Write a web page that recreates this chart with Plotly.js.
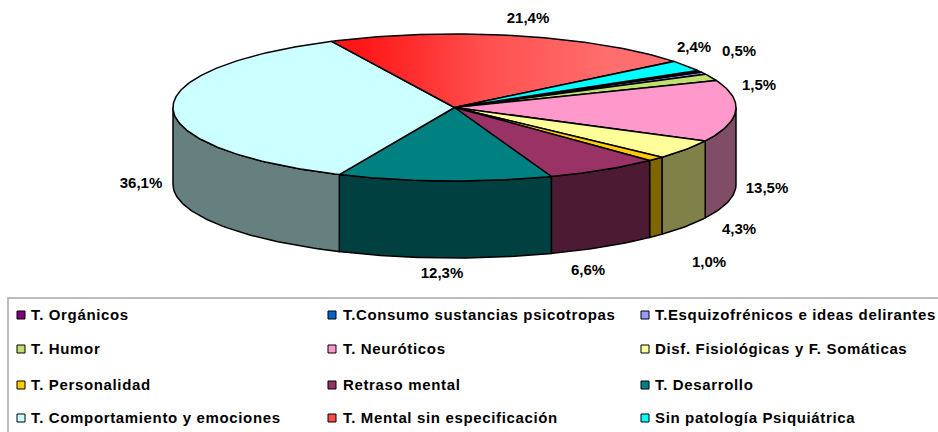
<!DOCTYPE html>
<html><head><meta charset="utf-8">
<script src="https://cdn.plot.ly/plotly-3.0.1.min.js"></script>
<style>html,body{margin:0;padding:0;background:#fff}#c{width:938px;height:432px}
#c .scatterlayer .trace.legendtext text{letter-spacing:0.65px}</style>
</head><body><div id="c"></div>
<script>
// ---- data, in pie order (clockwise) ----
const categories = ["T. Orgánicos","T.Consumo sustancias psicotropas","T.Esquizofrénicos e ideas delirantes","T. Humor","T. Neuróticos","Disf. Fisiológicas y F. Somáticas","T. Personalidad","Retraso mental","T. Desarrollo","T. Comportamiento y emociones","T. Mental sin especificación","Sin patología Psiquiátrica"];
const values = [0.2,0.2,0.5,1.5,13.5,4.3,1.0,6.6,12.3,36.1,21.4,2.4];
const labelled = [false,false,true,true,true,true,true,true,true,true,true,true];
// ---- styles ----
const topColors = ["#800080","#0066cc","#9999ff","#c0e070","#ff99cc","#ffff99","#ffcc00","#993366","#008080","#ccffff","#ff4a4a","#00ffff"];
const wallColors = ["#400040","#003366","#4d4d80","#607038","#804d66","#808049","#806600","#4d1a33","#004040","#668080","#802525","#008080"];
// ---- layout geometry (pixel-scaled axes) ----
const pie = {cx:454.5, cy:107.5, rx:281.5, ry:73.5, depth:77, start:59.8};
const labelX = [null,null,739,759,767,739,709,588,442,141,528,694];
const labelY = [null,null,52,86,189,230,263,271,274,184,19,48];
const gridX = [21,332,645];
const gridTextX = [31,343,655];
const gridY = [315,349,385,418];
const fontFam = '"Liberation Sans", Arial, sans-serif';

const total = values.reduce((a,b)=>a+b,0);
const pt = (deg,dy)=>{const a=deg*Math.PI/180;return [pie.cx+pie.rx*Math.sin(a), pie.cy-pie.ry*Math.cos(a)+dy];};
const arc = (a0,a1,dy)=>{const out=[];const n=Math.max(2,Math.ceil(Math.abs(a1-a0)));for(let i=0;i<=n;i++)out.push(pt(a0+(a1-a0)*i/n,dy));return out;};

let cum = pie.start; const spans = values.map(v=>{const s=[cum,cum+v/total*360];cum=s[1];return s;});
const traces = [];
const poly = (pts,color,name,extra)=>Object.assign({type:'scatter',mode:'lines',x:pts.map(p=>p[0]),y:pts.map(p=>p[1]),fill:'toself',fillcolor:color,line:{color:'#000',width:1.5},name:name,hoverinfo:'name',showlegend:false},extra||{});

// side walls: only the part of each slice between 90 and 270 degrees faces the viewer
spans.forEach((s,i)=>{
  const a0=Math.max(s[0],90), a1=Math.min(s[1],270);
  if(a1<=a0) return;
  const pts=arc(a0,a1,0).concat(arc(a1,a0,pie.depth)); pts.push(pts[0]);
  traces.push(poly(pts,wallColors[i],categories[i]));
});
// top faces
spans.forEach((s,i)=>{
  const pts=[[pie.cx,pie.cy]].concat(arc(s[0],s[1],0)); pts.push(pts[0]);
  const extra = categories[i]==="T. Mental sin especificación"
    ? {fillgradient:{type:'horizontal',start:360,stop:610,colorscale:[[0,'#ff1616'],[0.5,'#ff4f4f'],[1,'#ff6e6e']]}} : {};
  traces.push(poly(pts,topColors[i],categories[i],extra));
});
// percentage labels
const pctText = v=>v.toFixed(1).replace('.',',')+'%';
const li = values.map((v,i)=>i).filter(i=>labelled[i]);
traces.push({type:'scatter',mode:'text',x:li.map(i=>labelX[i]),y:li.map(i=>labelY[i]),text:li.map(i=>pctText(values[i])),textposition:'middle center',textfont:{family:fontFam,size:15,color:'#000',weight:700},hoverinfo:'skip',showlegend:false,cliponaxis:false});
// legend grid: swatches
categories.forEach((c,i)=>{
  traces.push({type:'scatter',mode:'markers',x:[gridX[i%3]],y:[gridY[Math.floor(i/3)]],marker:{symbol:'square',size:8,color:topColors[i],line:{color:'#000',width:1}},name:c,hoverinfo:'name',showlegend:false,cliponaxis:false});
});
// legend grid: names
const nameTrace = {type:'scatter',mode:'text',x:categories.map((c,i)=>gridTextX[i%3]),y:categories.map((c,i)=>gridY[Math.floor(i/3)]+1),text:categories,textposition:'middle right',textfont:{family:fontFam,size:15,color:'#000',weight:700},hoverinfo:'skip',showlegend:false,cliponaxis:false};
traces.push(nameTrace);
const layout = {
  width:938,height:432,margin:{l:0,r:0,t:0,b:0},paper_bgcolor:'#fff',plot_bgcolor:'#fff',showlegend:false,
  xaxis:{range:[0,938],visible:false,fixedrange:true},
  yaxis:{range:[432,0],visible:false,fixedrange:true},
  shapes:[{type:'rect',xref:'x',yref:'y',x0:8,y0:298,x1:1000,y1:500,line:{color:'#a6a6a6',width:1.5},layer:'below'}]
};
Plotly.newPlot('c',traces,layout,{displayModeBar:false,staticPlot:true}).then(gd=>{
  // the reference's legend text is tracked out; apply it to the last (names) trace
  const groups = gd.querySelectorAll('.scatterlayer .trace');
  groups[groups.length-1].classList.add('legendtext');
});
</script></body></html>
